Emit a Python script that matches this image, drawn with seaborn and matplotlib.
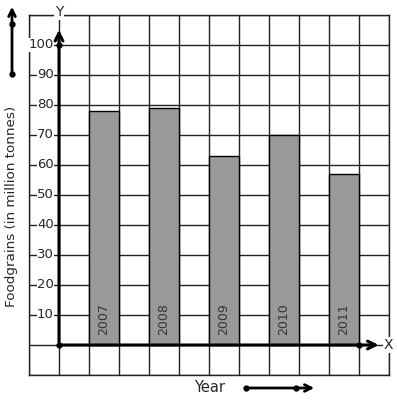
import matplotlib
matplotlib.use("Agg")
import matplotlib.pyplot as plt
import seaborn as sns
import pandas as pd

years = ["2007", "2008", "2009", "2010", "2011"]
foodgrains = [78, 79, 63, 70, 57]
y_ticks = [10, 20, 30, 40, 50, 60, 70, 80, 90, 100]

sns.set_theme(style="white")
plt.rcParams["font.family"] = ["DejaVu Sans"]

# bars sit in every other grid column, starting one column right of the Y axis
df = pd.DataFrame({"year": years, "value": foodgrains})
df["pos"] = [2 * i + 1.5 for i in range(len(df))]

fig = plt.figure(figsize=(3.97, 4.01), dpi=100)
ax = fig.add_axes([29 / 397, 26 / 401, 360 / 397, 360 / 401])

sns.barplot(data=df, x="pos", y="value", native_scale=True, width=0.5,
            color="#999999", saturation=1, edgecolor="black", linewidth=1,
            ax=ax, zorder=2)

ax.set_xlim(-1, 11)
ax.set_ylim(-10, 110)
ax.set_xticks(range(-1, 12))
ax.set_yticks(range(-10, 111, 10))
ax.grid(True, color="#222222", linewidth=1)
ax.set_axisbelow(True)
ax.tick_params(length=0, labelbottom=False, labelleft=False)
ax.set_xlabel("")
ax.set_ylabel("")
for s in ax.spines.values():
    s.set_visible(True)
    s.set_color("#222222")
    s.set_linewidth(1)

# axes with arrows
ax.annotate("", xy=(0, 106), xytext=(0, 0),
            arrowprops=dict(arrowstyle="->", lw=2.2, color="black",
                            mutation_scale=14), zorder=5)
ax.annotate("", xy=(10.75, 0), xytext=(0, 0),
            arrowprops=dict(arrowstyle="->", lw=2.2, color="black",
                            mutation_scale=14), zorder=5)
ax.plot([0, 0, 10], [0, 100, 0], "o", color="black", ms=3.5, zorder=6)

ax.text(0, 111, "Y", ha="center", va="center", fontsize=10, clip_on=False,
        bbox=dict(facecolor="white", edgecolor="none", pad=0.5), zorder=7)
ax.text(10.97, 0, "X", ha="center", va="center", fontsize=10, clip_on=False,
        bbox=dict(facecolor="white", edgecolor="none", pad=0.5), zorder=7)

for v in y_ticks:
    ax.text(-0.17, v, str(v), ha="right", va="center", fontsize=9.5,
            bbox=dict(facecolor="white", edgecolor="none", pad=0.3), zorder=3)

for p, yr in zip(df["pos"], df["year"]):
    ax.text(p, 3.3, yr, rotation=90, ha="center", va="bottom",
            fontsize=9, color="#333333", zorder=4)

fig.text(12 / 397, 195 / 401, "Foodgrains (in million tonnes)", rotation=90,
         ha="center", va="center", fontsize=9.7)
fig.text(210 / 397, 14 / 401, "Year", ha="center", va="center", fontsize=10.5)

# decorative arrows outside the grid
fig.add_artist(matplotlib.patches.FancyArrowPatch(
    (12, 326), (12, 397), transform=None, arrowstyle="->",
    mutation_scale=12, lw=2, color="black"))
fig.add_artist(matplotlib.patches.FancyArrowPatch(
    (246, 13), (317, 13), transform=None, arrowstyle="->",
    mutation_scale=12, lw=2, color="black"))
fig.add_artist(matplotlib.lines.Line2D([12, 12], [377, 327], marker="o",
                                       ls="none", ms=3.5, color="black",
                                       transform=None))
fig.add_artist(matplotlib.lines.Line2D([246, 296], [13, 13], marker="o",
                                       ls="none", ms=3.5, color="black",
                                       transform=None))

fig.savefig("out.png", dpi=100)
